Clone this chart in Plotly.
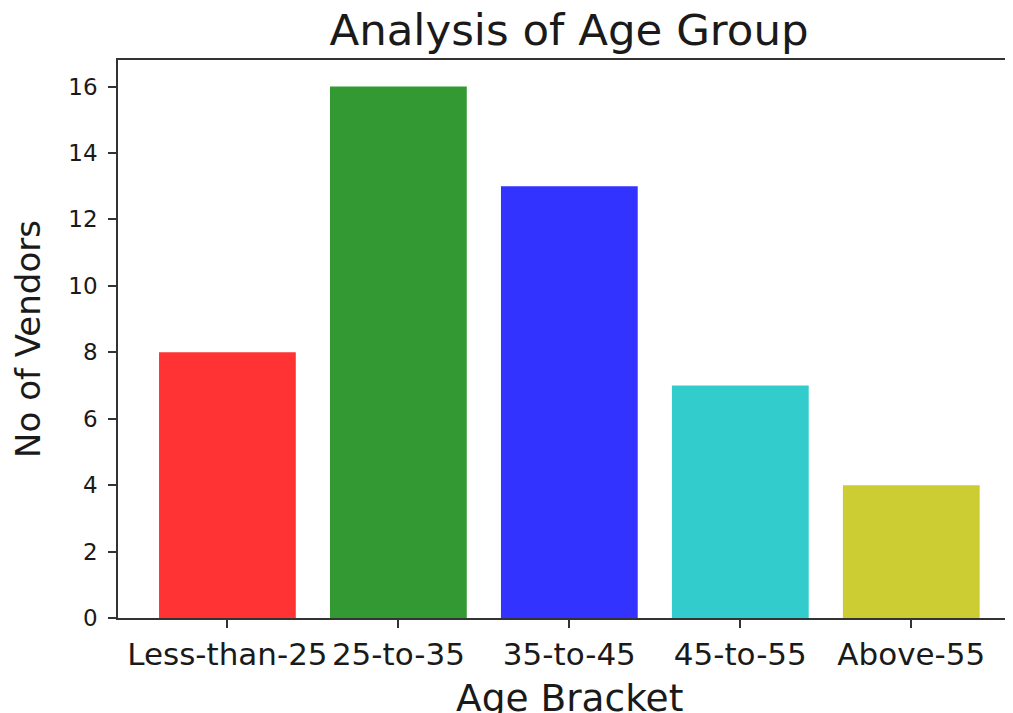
import plotly.graph_objects as go

categories = ["Less-than-25", "25-to-35", "35-to-45", "45-to-55", "Above-55"]
vendors = [8, 16, 13, 7, 4]
bar_colors = ["#ff3333", "#339933", "#3333ff", "#33cccc", "#cccc33"]
y_ticks = [0, 2, 4, 6, 8, 10, 12, 14, 16]

OFF = 8  # page body margin
W, H = 1013 - OFF, 713 - OFF
L, R, T, B = 118 - OFF, 0, 60 - OFF, 713 - 618
PH = H - T - B  # plot height in px

fig = go.Figure(go.Bar(
    x=list(range(len(categories))), y=vendors, width=0.8,
    marker=dict(color=bar_colors, line=dict(width=0)),
))

font = "DejaVu Sans"
fig.update_layout(
    width=W, height=H,
    margin=dict(l=L, r=R, t=T, b=B, pad=0),
    paper_bgcolor="white", plot_bgcolor="white",
    showlegend=False,
    font=dict(family=font, color="#1a1a1a"),
    title=dict(text="Analysis of Age Group", font=dict(size=43.5, family=font, color="#1a1a1a"),
               x=(569 - OFF) / W, xanchor="center", xref="container",
               y=1 - (30 - OFF) / H, yanchor="middle", yref="container"),
    annotations=[dict(
        text="Age Bracket", showarrow=False,
        font=dict(size=37.5, family=font, color="#1a1a1a"),
        xref="paper", x=(569 - 118) / (1013 - 118), xanchor="center",
        yref="paper", y=(H - B - (698 - OFF)) / PH, yanchor="middle",
    )],
)
fig.update_xaxes(
    range=[-0.64, 4.595],
    tickmode="array", tickvals=list(range(len(categories))), ticktext=categories,
    tickfont=dict(size=31, family=font, color="#1a1a1a"),
    ticks="outside", ticklen=8, tickwidth=1.5, tickcolor="#333",
    showline=True, linecolor="#333", linewidth=1.6, mirror=True,
    showgrid=False, zeroline=False,
)
fig.update_yaxes(
    range=[0, 16.8],
    tickmode="array", tickvals=y_ticks,
    tickfont=dict(size=23, family=font, color="#1a1a1a"),
    ticks="outside", ticklen=8, tickwidth=1.5, tickcolor="#333",
    showline=True, linecolor="#333", linewidth=1.6, mirror=False,
    showgrid=False, zeroline=False,
    ticklabelstandoff=6,
    title=dict(text="No of Vendors", font=dict(size=34, family=font, color="#1a1a1a"), standoff=17),
)

fig.write_html("out.html")
